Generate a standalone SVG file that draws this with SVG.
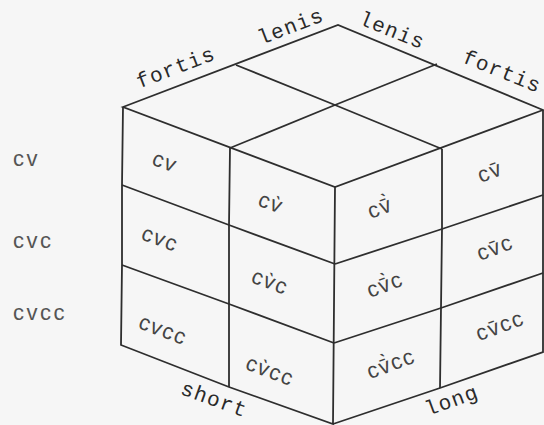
<svg xmlns="http://www.w3.org/2000/svg" width="544" height="425" viewBox="0 0 544 425">
<style>
.ln{fill:none;stroke:#2e2e2e;stroke-width:1.8;stroke-linejoin:miter}
.ty{font-family:"Liberation Mono","Courier New",monospace;font-size:21px;fill:#2a2a2a;letter-spacing:1.2px;text-anchor:middle}
.cl{font-family:"Liberation Sans","DejaVu Sans",Arial,sans-serif;font-size:22px;fill:#444;letter-spacing:1.5px;text-anchor:middle}
.rl{font-family:"Liberation Sans","DejaVu Sans",Arial,sans-serif;font-size:22px;fill:#555;letter-spacing:2.5px}
</style>
<rect width="544" height="425" fill="#f6f6f6"/>
<g id="connectors">
<polygon class="ln" points="123,107 338,25 543,110 335,187"/>
<polyline class="ln" points="230,148 335,105 437,64"/>
<polyline class="ln" points="442,149 335,105 236,65"/>
<polyline class="ln" points="123,107 122,185 122,265 121,345 229,387 333,424 335,187"/>
<polyline class="ln" points="230,148 229,225 229,304 229,387"/>
<polyline class="ln" points="122,185 229,225 335,264"/>
<polyline class="ln" points="122,265 229,304 334,343"/>
<polyline class="ln" points="543,110 543,195 543,273 543,352 440,388 333,424"/>
<polyline class="ln" points="442,149 442,229 441,308 440,388"/>
<polyline class="ln" points="335,264 442,229 543,195"/>
<polyline class="ln" points="334,343 441,308 543,273"/>
</g>
<g id="edge-labels">
<text class="ty" transform="rotate(-21 176 68)" x="176" y="74">fortis</text>
<text class="ty" transform="rotate(-21 291 27)" x="291" y="33">lenis</text>
<text class="ty" transform="rotate(22 392 31)" x="392" y="37">lenis</text>
<text class="ty" transform="rotate(22 502 72)" x="502" y="78">fortis</text>
<text class="ty" transform="rotate(20 214 400)" x="214" y="406">short</text>
<text class="ty" transform="rotate(-20 452 401)" x="452" y="407">long</text>
</g>
<g id="row-labels">
<text class="rl" x="13" y="166">cv</text>
<text class="rl" x="13" y="248">cvc</text>
<text class="rl" x="13" y="320">cvcc</text>
</g>
<g id="cell-cv"><text class="cl" transform="rotate(20.5 165 162)" x="165" y="169">cv</text></g>
<g id="cell-cv-lenis"><text class="cl" transform="rotate(20.5 271 203)" x="271" y="210">cv̀</text></g>
<g id="cell-cvc"><text class="cl" transform="rotate(20.5 160 239)" x="160" y="246">cvc</text></g>
<g id="cell-cvc-lenis"><text class="cl" transform="rotate(20.5 270 282)" x="270" y="289">cv̀c</text></g>
<g id="cell-cvcc"><text class="cl" transform="rotate(20.5 163 330)" x="163" y="337">cvcc</text></g>
<g id="cell-cvcc-lenis"><text class="cl" transform="rotate(20.5 270 371)" x="270" y="378">cv̀cc</text></g>
<g id="cell-long-cv-lenis"><text class="cl" transform="rotate(-20.5 380 208)" x="380" y="215">cv̄̀</text></g>
<g id="cell-long-cv"><text class="cl" transform="rotate(-20.5 490 172)" x="490" y="179">cv̄</text></g>
<g id="cell-long-cvc-lenis"><text class="cl" transform="rotate(-20.5 385 285)" x="385" y="292">cv̄̀c</text></g>
<g id="cell-long-cvc"><text class="cl" transform="rotate(-20.5 495 248)" x="495" y="255">cv̄c</text></g>
<g id="cell-long-cvcc-lenis"><text class="cl" transform="rotate(-20.5 391 364)" x="391" y="371">cv̄̀cc</text></g>
<g id="cell-long-cvcc"><text class="cl" transform="rotate(-20.5 500 326)" x="500" y="333">cv̄cc</text></g>
</svg>
